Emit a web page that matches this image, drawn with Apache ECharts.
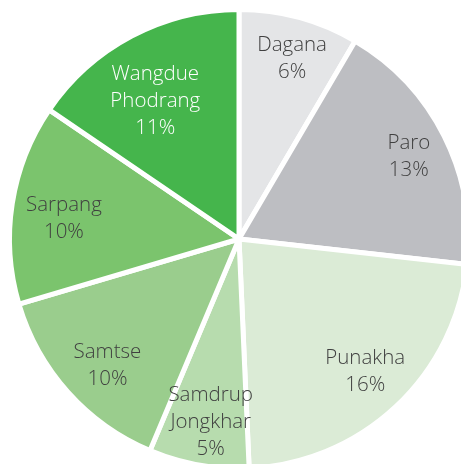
<!DOCTYPE html>
<html><head><meta charset="utf-8">
<script src="https://cdn.jsdelivr.net/npm/echarts@6/dist/echarts.min.js"></script>
<style>html,body{margin:0;padding:0;background:#fff}#c{width:461px;height:464px}</style>
</head><body><div id="c"></div>
<script>
const categories = ['Dagana', 'Paro', 'Punakha', 'Samdrup\nJongkhar', 'Samtse', 'Sarpang', 'Wangdue\nPhodrang'];
const values = [6, 13, 16, 5, 10, 10, 11];

// styling (kept separate from data)
const colors = ['#e4e5e7', '#bdbec2', '#dbebd6', '#b7dcae', '#9acd8d', '#7bc46d', '#45b54c'];
const labelColors = ['#404040', '#404040', '#404040', '#404040', '#404040', '#404040', '#ffffff'];
const labelOffsets = [[5, -4], [6, 0], [1, -1], [4, 3], [5, 4], [6, 8], [2, 24]];

const chart = echarts.init(document.getElementById('c'));
const data = categories.map((c, i) => ({ name: c, value: values[i], itemStyle: { color: colors[i] } }));
const labelData = categories.map((c, i) => ({ name: c, value: values[i], label: { color: labelColors[i], offset: labelOffsets[i] } }));
chart.setOption({
  animation: false,
  series: [
    {
      type: 'pie', center: [239, 239], radius: [0, 229.5], startAngle: 90, clockwise: true,
      itemStyle: { borderColor: '#fff', borderWidth: 5 },
      label: { show: false }, labelLine: { show: false }, silent: true,
      data: data
    },
    {
      type: 'pie', center: [239, 239], radius: [131, 229.5], startAngle: 90, clockwise: true,
      itemStyle: { color: 'rgba(0,0,0,0)' }, silent: true,
      label: { show: true, position: 'inside', formatter: '{b}\n{c}%', fontFamily: 'Open Sans', fontWeight: 300, fontSize: 20.5, lineHeight: 27, align: 'center' },
      labelLine: { show: false },
      data: labelData
    }
  ]
});
</script></body></html>
